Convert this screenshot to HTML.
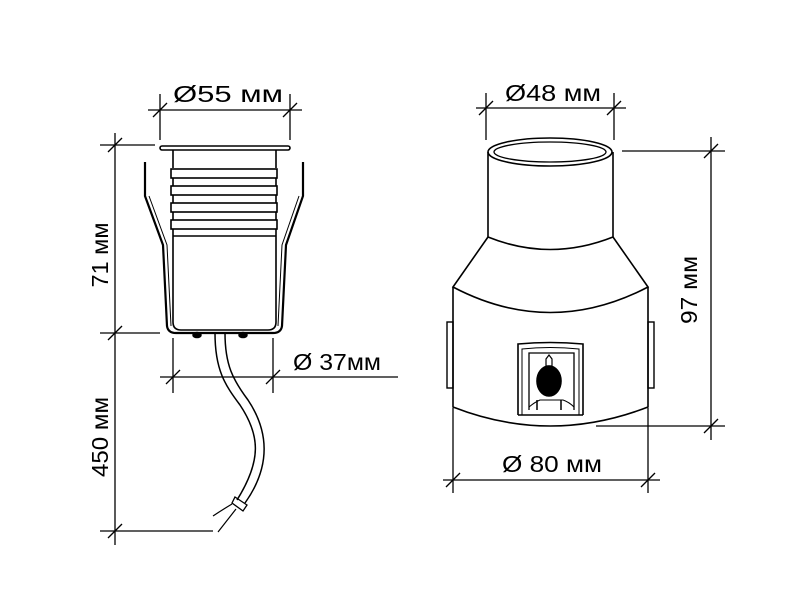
<!DOCTYPE html>
<html><head><meta charset="utf-8"><style>html,body{margin:0;padding:0;background:#fff}svg{display:block}</style></head><body>
<svg width="800" height="602" viewBox="0 0 800 602" xmlns="http://www.w3.org/2000/svg" font-family="Liberation Sans, DejaVu Sans, sans-serif" fill="none" stroke="#000" stroke-width="1.6">
<g stroke-width="1.3">
<line x1="148" y1="110" x2="302" y2="110"/>
<line x1="160" y1="94" x2="160" y2="140"/><line x1="290" y1="94" x2="290" y2="140"/>
<line x1="153" y1="117" x2="167" y2="103"/><line x1="283" y1="117" x2="297" y2="103"/>
<line x1="115" y1="133" x2="115" y2="545"/>
<line x1="100" y1="145" x2="155" y2="145"/><line x1="100" y1="333" x2="160" y2="333"/><line x1="100" y1="531" x2="213" y2="531"/>
<line x1="108" y1="152" x2="122" y2="138"/><line x1="108" y1="340" x2="122" y2="326"/><line x1="108" y1="538" x2="122" y2="524"/>
<line x1="173" y1="338" x2="173" y2="393"/><line x1="273" y1="338" x2="273" y2="393"/>
<line x1="160" y1="377" x2="398" y2="377"/>
<line x1="166" y1="384" x2="180" y2="370"/><line x1="266" y1="384" x2="280" y2="370"/>
</g>
<g fill="#000" stroke="none" font-size="23">
<text x="228" y="102" text-anchor="middle" textLength="110" lengthAdjust="spacingAndGlyphs">Ø55 мм</text>
<text x="337" y="370" text-anchor="middle" textLength="88" lengthAdjust="spacingAndGlyphs">Ø 37мм</text>
<text transform="translate(108,255) rotate(-90)" text-anchor="middle" textLength="65" lengthAdjust="spacingAndGlyphs">71 мм</text>
<text transform="translate(108,437) rotate(-90)" text-anchor="middle" textLength="80" lengthAdjust="spacingAndGlyphs">450 мм</text>
</g>
<rect x="160" y="146" width="130" height="4" rx="2"/>
<path d="M173 150 V168 M276 150 V168 M173 236 V322 Q173 330 181 330 H268 Q276 330 276 322 V236"/>
<rect x="171" y="169" width="106" height="9"/><rect x="171" y="186" width="106" height="9"/><rect x="171" y="203" width="106" height="9"/><rect x="171" y="220" width="106" height="9"/>
<line x1="173" y1="236" x2="276" y2="236"/><line x1="173" y1="178" x2="173" y2="186"/><line x1="276" y1="178" x2="276" y2="186"/><line x1="173" y1="195" x2="173" y2="203"/><line x1="276" y1="195" x2="276" y2="203"/><line x1="173" y1="212" x2="173" y2="220"/><line x1="276" y1="212" x2="276" y2="220"/><line x1="173" y1="229" x2="173" y2="236"/><line x1="276" y1="229" x2="276" y2="236"/>
<path d="M145 162 V196 L163 245 L167 326 Q168 333 176 333 H273 Q281 333 282 326 L286 245 L303 196 V162" stroke-width="2.2"/>
<path d="M149 196 L167 245 L171 326 M299 196 L282 245 L278 326" stroke-width="1"/>
<ellipse cx="197" cy="335" rx="4" ry="2.5" fill="#000"/><ellipse cx="243" cy="335" rx="4" ry="2.5" fill="#000"/>
<path d="M215 333 C215 370 225 385 240 405 C260 435 262 460 237 500" stroke-width="1.5"/>
<path d="M225 333 C225 365 233 380 248 400 C268 430 272 465 245 503" stroke-width="1.5"/>
<path d="M235 497 L247 505 L243 511 L232 503 Z" stroke-width="1.3"/>
<path d="M232 504 Q222 510 213 516 M236 509 L218 532" stroke-width="1.2"/>
<g stroke-width="1.3">
<line x1="476" y1="108" x2="626" y2="108"/>
<line x1="486" y1="93" x2="486" y2="140"/><line x1="614" y1="93" x2="614" y2="140"/>
<line x1="479" y1="115" x2="493" y2="101"/><line x1="607" y1="115" x2="621" y2="101"/>
<line x1="622" y1="151" x2="725" y2="151"/><line x1="596" y1="426" x2="725" y2="426"/>
<line x1="711" y1="137" x2="711" y2="440"/>
<line x1="704" y1="158" x2="718" y2="144"/><line x1="704" y1="433" x2="718" y2="419"/>
<line x1="453" y1="408" x2="453" y2="493"/><line x1="648" y1="408" x2="648" y2="493"/>
<line x1="443" y1="480" x2="660" y2="480"/>
<line x1="446" y1="487" x2="460" y2="473"/><line x1="641" y1="487" x2="655" y2="473"/>
</g>
<g fill="#000" stroke="none" font-size="23">
<text x="553" y="101" text-anchor="middle" textLength="96" lengthAdjust="spacingAndGlyphs">Ø48 мм</text>
<text x="552" y="472" text-anchor="middle" textLength="100" lengthAdjust="spacingAndGlyphs">Ø 80 мм</text>
<text transform="translate(697,290) rotate(-90)" text-anchor="middle" textLength="68" lengthAdjust="spacingAndGlyphs">97 мм</text>
</g>
<ellipse cx="550" cy="152" rx="62" ry="14"/>
<ellipse cx="550" cy="152" rx="56" ry="10" stroke-width="1.3"/>
<path d="M488 152 V237 Q550 262 613 237 V152"/>
<path d="M488 237 L453 287 Q550 338 648 287 L613 237"/>
<path d="M453 287 V407 Q550 445 648 407 V287"/>
<rect x="447" y="322" width="6" height="66" stroke-width="1.4"/>
<rect x="648" y="322" width="6" height="66" stroke-width="1.4"/>
<path d="M518 415 V344 Q550 341 583 344 V415" stroke-width="1.6"/>
<path d="M522 415 V349 Q550 346 579 349 V415" stroke-width="1"/>
<path d="M529 410 V353 H574 V410" stroke-width="1.3"/>
<path d="M529 407 Q535 402 540 400 H563 Q569 402 574 407" stroke-width="1"/>
<line x1="537" y1="400" x2="537" y2="410" stroke-width="1.5"/><line x1="561" y1="400" x2="561" y2="410" stroke-width="1.5"/>
<ellipse cx="549" cy="381" rx="12" ry="15" fill="#000"/>
<path d="M546 366 V359 L549 355 L552 359 V366 Z" stroke-width="1.2"/>
<line x1="518" y1="415" x2="583" y2="415"/>
</svg>
</body></html>
